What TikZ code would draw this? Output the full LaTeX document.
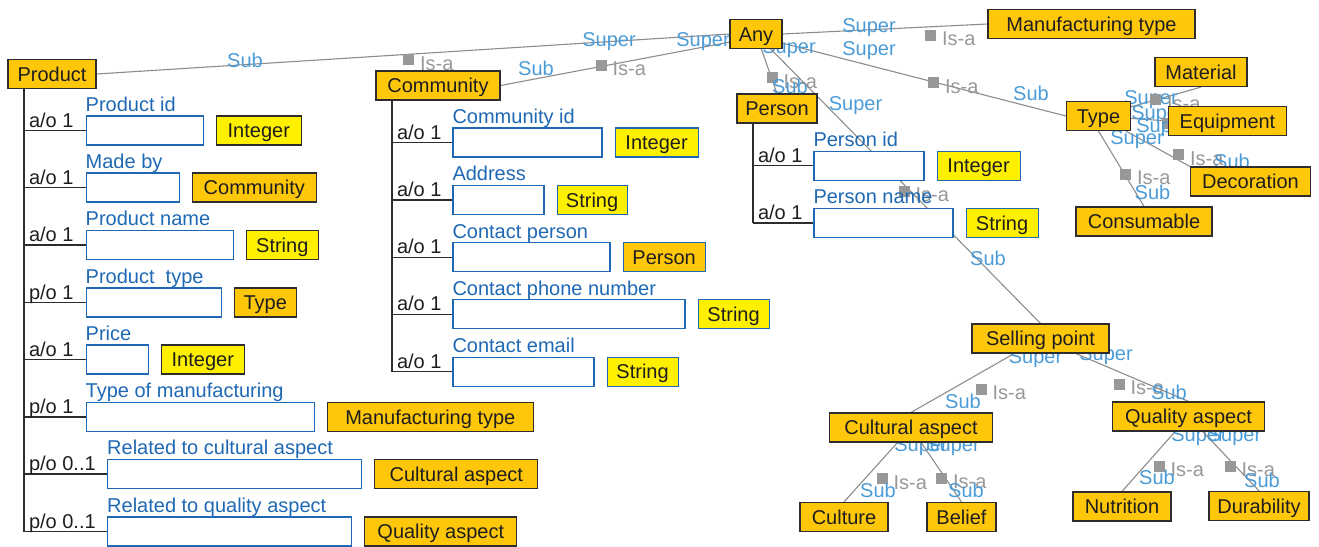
\documentclass[tikz,border=0pt]{standalone}
\usepackage{fontspec}
\setmainfont{Liberation Sans}
\usetikzlibrary{positioning,backgrounds}
\definecolor{clsorange}{RGB}{255,199,10}
\definecolor{dtyellow}{RGB}{255,240,0}
\definecolor{boxedge}{RGB}{45,45,45}
\definecolor{fieldblue}{RGB}{30,104,180}
\definecolor{roleblue}{RGB}{75,155,215}
\definecolor{isagray}{RGB}{152,152,152}
\definecolor{linkgray}{RGB}{140,140,140}
\definecolor{inktext}{RGB}{30,30,30}

\begin{document}
\begin{tikzpicture}[x=1pt, y=-1pt, node distance=12pt,
  every node/.style={font=\fontsize{20}{24}\selectfont},
  cls/.style={draw=boxedge, fill=clsorange, line width=1.2pt, minimum height=29pt,
    inner sep=0pt, text height=14.3pt, text depth=0pt, text=inktext},
  dtype/.style={draw=boxedge, fill=dtyellow, line width=1.2pt, minimum height=29pt,
    inner sep=0pt, text height=14.3pt, text depth=0pt, text=inktext},
  field/.style={draw=fieldblue, fill=white, line width=1.2pt, minimum height=29pt,
    inner sep=0pt, anchor=west, label={[fname]north west:#1}},
  fname/.style={anchor=base west, inner sep=0pt, yshift=4pt, text=fieldblue},
  card/.style={anchor=base west, inner sep=0pt, xshift=4.5pt, yshift=3.5pt, text=inktext},
  tree/.style={draw=boxedge, line width=1.2pt},
  link/.style={draw=linkgray, line width=1.1pt},
  role/.style={inner sep=0pt, text=roleblue},
  isa/.style={fill=isagray, minimum size=11pt, inner sep=0pt,
    label={[anchor=west, inner sep=0pt, xshift=5pt, yshift=-4pt, text=isagray]east:Is-a}},
]
\useasboundingbox (0,0) rectangle (1319,546);

% classes
\node[cls, minimum width=88pt] (prod) at (52,74) {Product};
\node[cls, minimum width=52pt] (any) at (756,34) {Any};
\node[cls, minimum width=207pt] (mfg) at (1091.5,24) {Manufacturing type};
\node[cls, minimum width=124pt] (comm) at (438,85.5) {Community};
\node[cls, minimum width=80pt] (person) at (777,108.5) {Person};
\node[cls, minimum width=64pt] (type) at (1098.5,116) {Type};
\node[cls, minimum width=92pt] (material) at (1201,72) {Material};
\node[cls, minimum width=118pt] (equip) at (1227.5,121) {Equipment};
\node[cls, minimum width=120pt] (decor) at (1250.5,181.5) {Decoration};
\node[cls, minimum width=136pt] (consum) at (1144,221.5) {Consumable};
\node[cls, minimum width=137pt] (selling) at (1040.5,338.5) {Selling point};
\node[cls, minimum width=163pt] (cultural) at (911,427.5) {Cultural aspect};
\node[cls, minimum width=152pt] (quality) at (1188.5,416.5) {Quality aspect};
\node[cls, minimum width=88pt] (culture) at (844,517) {Culture};
\node[cls, minimum width=69pt] (belief) at (961.5,517) {Belief};
\node[cls, minimum width=98pt] (nutrition) at (1122,506.5) {Nutrition};
\node[cls, minimum width=100pt] (durab) at (1259,506) {Durability};

% product attributes
\node[field=Product id, minimum width=117pt] (pid) at (85.5,130.5) {};
\node[dtype, minimum width=85pt, right=of pid] (pidt) {Integer};
\node[field=Made by, minimum width=93pt] (pmade) at (85.5,187.5) {};
\node[cls, minimum width=124pt, right=of pmade] (pmadet) {Community};
\node[field=Product name, minimum width=147pt] (pname) at (85.5,245) {};
\node[dtype, minimum width=72pt, right=of pname] (pnamet) {String};
\node[field={Product\ \ type}, minimum width=135pt] (ptype) at (85.5,302.5) {};
\node[cls, minimum width=62pt, right=of ptype] (ptypet) {Type};
\node[field=Price, minimum width=62pt] (pprice) at (85.5,359.5) {};
\node[dtype, minimum width=83pt, right=of pprice] (ppricet) {Integer};
\node[field=Type of manufacturing, minimum width=228pt] (pmanu) at (85.5,417) {};
\node[cls, minimum width=206pt, right=of pmanu] (pmanut) {Manufacturing type};
\node[field=Related to cultural aspect, minimum width=254pt] (pcult) at (107,474) {};
\node[cls, minimum width=163pt, right=of pcult] (pcultt) {Cultural aspect};
\node[field=Related to quality aspect, minimum width=244pt] (pqual) at (107,531.5) {};
\node[cls, minimum width=152pt, right=of pqual] (pqualt) {Quality aspect};

\coordinate (ptr) at ([xshift=16.5pt]prod.south west);
\draw[tree] (ptr) -- (ptr |- pqual.west);
\draw[tree] (ptr |- pid.west) node[card] (pc1) {a/o 1} -- (pid.west);
\draw[tree] (ptr |- pmade.west) node[card] (pc2) {a/o 1} -- (pmade.west);
\draw[tree] (ptr |- pname.west) node[card] (pc3) {a/o 1} -- (pname.west);
\draw[tree] (ptr |- ptype.west) node[card] (pc4) {p/o 1} -- (ptype.west);
\draw[tree] (ptr |- pprice.west) node[card] (pc5) {a/o 1} -- (pprice.west);
\draw[tree] (ptr |- pmanu.west) node[card] (pc6) {p/o 1} -- (pmanu.west);
\draw[tree] (ptr |- pcult.west) node[card] (pc7) {p/o 0..1} -- (pcult.west);
\draw[tree] (ptr |- pqual.west) node[card] (pc8) {p/o 0..1} -- (pqual.west);

% community attributes
\node[field=Community id, minimum width=149pt] (cid) at (452.3,142.5) {};
\node[dtype, draw=fieldblue, minimum width=83pt, right=of cid] (cidt) {Integer};
\node[field=Address, minimum width=91pt] (caddr) at (452.3,200) {};
\node[dtype, draw=fieldblue, minimum width=70pt, right=of caddr] (caddrt) {String};
\node[field=Contact person, minimum width=157pt] (cpers) at (452.3,257.3) {};
\node[cls, draw=fieldblue, minimum width=82pt, right=of cpers] (cperst) {Person};
\node[field=Contact phone number, minimum width=232pt] (cphone) at (452.3,314.3) {};
\node[dtype, draw=fieldblue, minimum width=71pt, right=of cphone] (cphonet) {String};
\node[field=Contact email, minimum width=141pt] (cmail) at (452.3,371.7) {};
\node[dtype, draw=fieldblue, minimum width=71pt, right=of cmail] (cmailt) {String};

\coordinate (ctr) at ([xshift=16.5pt]comm.south west);
\draw[tree] (ctr) -- (ctr |- cmail.west);
\draw[tree] (ctr |- cid.west) node[card] (cc1) {a/o 1} -- (cid.west);
\draw[tree] (ctr |- caddr.west) node[card] (cc2) {a/o 1} -- (caddr.west);
\draw[tree] (ctr |- cpers.west) node[card] (cc3) {a/o 1} -- (cpers.west);
\draw[tree] (ctr |- cphone.west) node[card] (cc4) {a/o 1} -- (cphone.west);
\draw[tree] (ctr |- cmail.west) node[card] (cc5) {a/o 1} -- (cmail.west);

% person attributes
\node[field=Person id, minimum width=110pt] (eid) at (813.3,165.7) {};
\node[dtype, draw=fieldblue, minimum width=83pt, right=of eid] (eidt) {Integer};
\node[field=Person name, minimum width=139pt] (ename) at (813.3,223) {};
\node[dtype, draw=fieldblue, minimum width=72pt, right=of ename] (enamet) {String};

\coordinate (etr) at ([xshift=16.5pt]person.south west);
\draw[tree] (etr) -- (etr |- ename.west);
\draw[tree] (etr |- eid.west) node[card] (ec1) {a/o 1} -- (eid.west);
\draw[tree] (etr |- ename.west) node[card] (ec2) {a/o 1} -- (ename.west);

% is-a links
\begin{scope}[on background layer]
\draw[link] (prod.east) -- (any.west)
  node[role] (psub) at (245,60) {Sub}
  node[role] (psup) at (609,42) {Super}
  node[isa] (pisa) at (408.5,59.5) {};
\draw[link] (comm.east) -- (any.197)
  node[role] (csub) at (536,68) {Sub}
  node[role] (csup) at (703,42) {Super}
  node[isa] (cisa) at (601,65) {};
\draw[link] (any.east) -- (mfg.west)
  node[role] (msup) at (869,27.5) {Super}
  node[isa] (misa) at (930.5,35) {};
\draw[link] (any.-19) -- (type.west)
  node[role] (tsup) at (869,51) {Super}
  node[isa] (tisa) at (933.5,82.5) {}
  node[role] (tsub) at (1031,93.5) {Sub};
\draw[link] (any) -- (person.north)
  node[role] (esup) at (789,49) {Super}
  node[isa] (eisa) at (772,77.5) {}
  node[role] (esub) at (790,86) {Sub};
\draw[link] (any) -- (selling.north)
  node[role] (ssup) at (855.5,105.5) {Super}
  node[isa] (sisa) at (904,191) {}
  node[role] (ssub) at (988,258) {Sub};
% kinds of type
\draw[link] (type) -- (material.south)
  node[role] (masup) at (1151,100) {Super}
  node[isa] (maisa) at (1155.5,99.5) {};
\draw[link] (type) -- (equip.west)
  node[role] (eqsup) at (1158,114.5) {Super}
  node[isa] (eqisa) at (1167,123) {};
\draw[link] (type) -- (decor.north west)
  node[role] (desup) at (1163,127.5) {Super}
  node[isa] (deisa) at (1178.5,154.5) {}
  node[role] (desub) at (1232,161.5) {Sub};
\draw[link] (type.south) -- (consum.north)
  node[role] (cosup) at (1137,139.5) {Super}
  node[isa] (coisa) at (1125.5,174) {}
  node[role] (cosub) at (1152.5,192.5) {Sub};
% selling points
\draw[link] (selling) -- (cultural.north)
  node[role] (cusup) at (1035.5,359) {Super}
  node[isa] (cuisa) at (981,389) {}
  node[role] (cusub) at (963,401) {Sub};
\draw[link] (selling) -- (quality.north)
  node[role] (qusup) at (1106,356) {Super}
  node[isa] (quisa) at (1119,384) {}
  node[role] (qusub) at (1169,392) {Sub};
\draw[link] (cultural) -- (culture.north)
  node[role] (cosup2) at (921,446.5) {Super}
  node[isa] (cuisa2) at (882,478.5) {}
  node[role] (cusub2) at (878,490) {Sub};
\draw[link] (cultural) -- (belief.north)
  node[role] (besup) at (953,446.5) {Super}
  node[isa] (beisa) at (941.5,478) {}
  node[role] (besub) at (966,490) {Sub};
\draw[link] (quality) -- (nutrition.north)
  node[role] (nusup) at (1198,436.5) {Super}
  node[isa] (nuisa) at (1159,466) {}
  node[role] (nusub) at (1157,477.5) {Sub};
\draw[link] (quality) -- (durab.north)
  node[role] (dusup) at (1234.5,436.5) {Super}
  node[isa] (duisa) at (1230,466) {}
  node[role] (dusub) at (1262,480) {Sub};
\end{scope}
\end{tikzpicture}
\end{document}
